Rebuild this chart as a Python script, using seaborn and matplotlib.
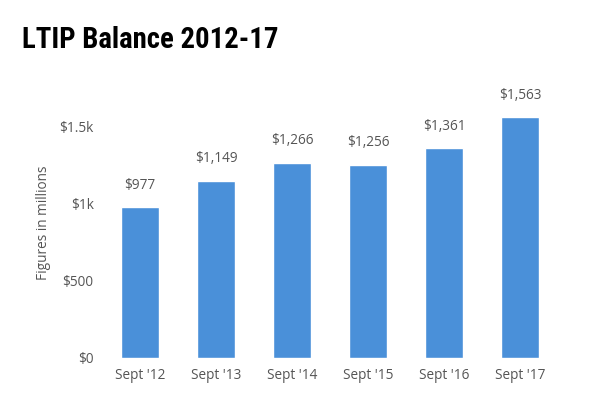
import matplotlib
matplotlib.use("Agg")
import matplotlib.pyplot as plt
import seaborn as sns
import pandas as pd

years = ["Sept '12", "Sept '13", "Sept '14", "Sept '15", "Sept '16", "Sept '17"]
balance = [977, 1149, 1266, 1256, 1361, 1563]
ytick_vals = [0, 500, 1000, 1500]
ytick_labels = ["$0", "$500", "$1k", "$1.5k"]

sns.set_theme(style="white")
plt.rcParams['font.family'] = ['Open Sans', 'DejaVu Sans']

df = pd.DataFrame({"year": years, "balance": balance})

fig = plt.figure(figsize=(6, 4), dpi=100, facecolor='w')
ax = fig.add_axes([0.17, 0.105, 0.76, 0.674])
sns.barplot(data=df, x="year", y="balance", color="#4a90d9", saturation=1,
            width=0.5, ax=ax)

for i, v in enumerate(balance):
    ax.text(i, v + 95, "${:,}".format(v), ha='center', va='bottom',
            fontsize=9.8, color='#555555', clip_on=False)

ax.set_xlim(-0.5, 5.5)
ax.set_ylim(0, 1750)
ax.set_yticks(ytick_vals)
ax.set_yticklabels(ytick_labels)
ax.tick_params(axis='both', length=0, labelsize=9.8, colors='#555555')
ax.tick_params(axis='y', pad=6)
ax.tick_params(axis='x', pad=7)
ax.set_xlabel('')
ax.set_ylabel('Figures in millions', fontsize=9.8, color='#555555', labelpad=6)
sns.despine(ax=ax, left=True, bottom=True)

fig.text(0.036, 0.9, 'LTIP Balance 2012-17', fontsize=20.7, fontweight='bold',
         family=['Roboto Condensed', 'DejaVu Sans'],
         color='black', va='center')

fig.savefig('out.png', dpi=100)
